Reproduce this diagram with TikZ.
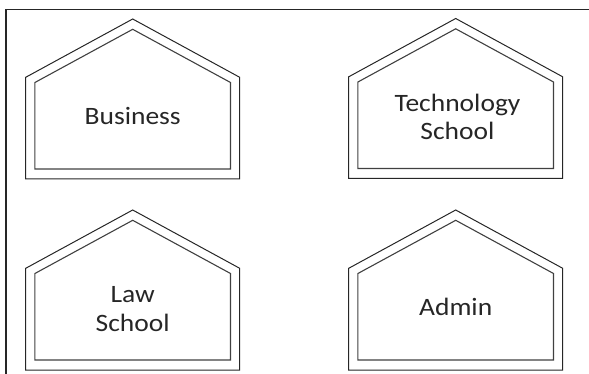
\documentclass[tikz,border=0pt]{standalone}
\usepackage{fontspec}
\setmainfont{Carlito}[FakeStretch=1.1]
\begin{document}
\begin{tikzpicture}[x=1pt,y=-1pt,
  outerhouse/.style={draw=black!85,line width=1pt,line join=miter},
  innerhouse/.style={draw=black!75,line width=1.1pt,line join=miter},
  frameline/.style={draw=black!85,line width=1.6pt},
  label/.style={align=center,font=\fontsize{25}{28.5}\selectfont,text=black!85,inner sep=0pt},
  pics/house/.style={code={
    \draw[outerhouse] (0,0) -- (107,58.3) -- (107,160) -- (-107,160) -- (-107,58.3) -- cycle;
    \draw[innerhouse] (0,10.3) -- (97.8,63.5) -- (97.8,150) -- (-97.8,150) -- (-97.8,63.5) -- cycle;
  }}]
\useasboundingbox (0,0) rectangle (589,374);
\draw[frameline] (6,374) -- (6,9.5) -- (589,9.5);
\pic at (132.7,19) {house};
\pic at (455.7,18.5) {house};
\pic at (132.7,210) {house};
\pic at (455.7,210) {house};
\node[label] (business) at (132.7,116) {Business};
\node[label] (tech) at (457.5,117) {Technology\\School};
\node[label] (law) at (132.7,309) {Law\\School};
\node[label] (admin) at (455.7,307) {Admin};
\end{tikzpicture}
\end{document}
